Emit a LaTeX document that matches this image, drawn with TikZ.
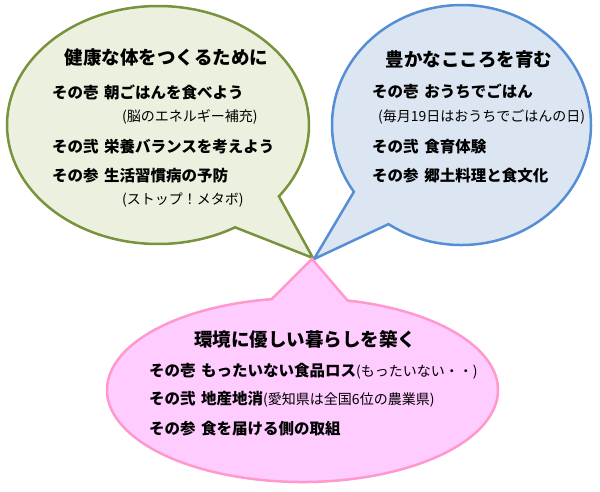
\documentclass[tikz,border=0pt]{standalone}
\usepackage{fontspec}
\setmainfont{Noto Sans CJK JP}
\definecolor{gfill}{HTML}{EBF1DE}
\definecolor{gline}{HTML}{77933C}
\definecolor{bfill}{HTML}{DCE6F2}
\definecolor{bline}{HTML}{558ED5}
\definecolor{pfill}{HTML}{FFCCFF}
\definecolor{pline}{HTML}{FF99CC}
\begin{document}
\begin{tikzpicture}[x=1pt,y=-1pt,
  bubble/.style={line width=2.5pt, line join=miter},
  titletext/.style={anchor=center, inner sep=0pt, text=black, font=\fontsize{18.5}{20}\selectfont\bfseries},
  itemtext/.style={anchor=west, inner sep=0pt, font=\fontsize{15.5}{17}\selectfont\bfseries},
  notetext/.style={anchor=west, inner sep=0pt, font=\fontsize{14}{16}\selectfont}]
\useasboundingbox (0,0) rectangle (600,491);
% green bubble
\coordinate (gc) at (158,125);
\coordinate (gtip) at (313,258);
\draw[bubble, draw=gline, fill=gfill] (gc) ++(36.8:151 and 119)
  arc[start angle=36.8, end angle=-300.7, x radius=151, y radius=119] -- (gtip) -- cycle;
% blue bubble
\coordinate (bc) at (461.5,125);
\coordinate (btip) at (314,259);
\draw[bubble, draw=bline, fill=bfill] (bc) ++(124.3:129.5 and 120)
  arc[start angle=124.3, end angle=-213.8, x radius=129.5, y radius=120] -- (btip) -- cycle;
% pink bubble
\coordinate (pc) at (302.5,390);
\coordinate (ptip) at (312,259);
\draw[bubble, draw=pline, fill=pfill] (pc) ++(-76.7:195.5 and 92)
  arc[start angle=-76.7, end angle=260.9, x radius=195.5, y radius=92] -- (ptip) -- cycle;
% green texts
\node[titletext] (gt) at (166.5,58) {健康な体をつくるために};
\node[itemtext] (g1) at (52,92) {その壱 \kern2pt朝ごはんを食べよう};
\node[notetext] (g1n) at (122,117) {(脳のエネルギー補充)};
\node[itemtext] (g2) at (52,147) {その弐 \kern2pt栄養バランスを考えよう};
\node[itemtext] (g3) at (52,176) {その参 \kern2pt生活習慣病の予防};
\node[notetext] (g3n) at (122,200) {(ストップ！メタボ)};
% blue texts
\node[titletext] (bt) at (469,59) {豊かなこころを育む};
\node[itemtext] (b1) at (372,91) {その壱 \kern2ptおうちでごはん};
\node[notetext] (b1n) at (378,117) {(毎月19日はおうちでごはんの日)};
\node[itemtext] (b2) at (372,147) {その弐 \kern2pt食育体験};
\node[itemtext] (b3) at (372,176) {その参 \kern2pt郷土料理と食文化};
% pink texts
\node[titletext] (pt) at (305,339) {環境に優しい暮らしを築く};
\node[itemtext] (p1) at (149,371) {その壱 \kern2ptもったいない食品ロス{\mdseries\fontsize{14}{16}\selectfont(もったいない・・)}};
\node[itemtext] (p2) at (149,399) {その弐 \kern2pt地産地消{\mdseries\fontsize{14}{16}\selectfont(愛知県は全国6位の農業県)}};
\node[itemtext] (p3) at (149,429) {その参 \kern2pt食を届ける側の取組};
\end{tikzpicture}
\end{document}
